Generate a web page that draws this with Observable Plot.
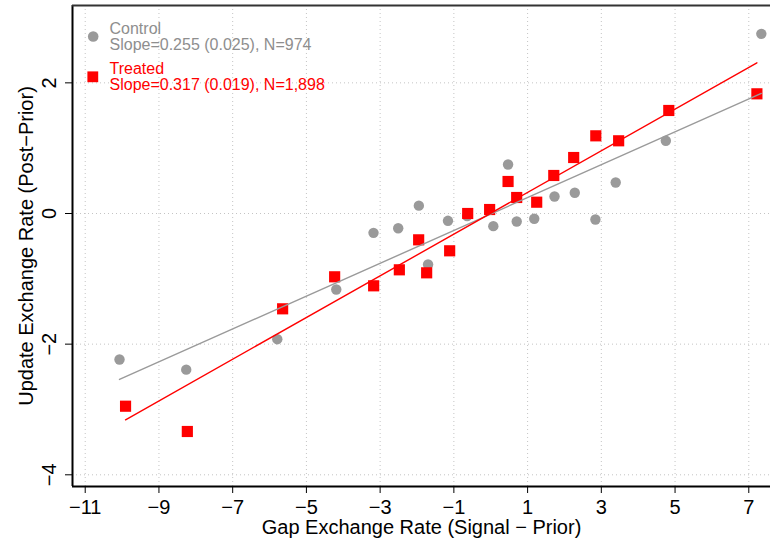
<!DOCTYPE html>
<html>
<head>
<meta charset="utf-8">
<script src="https://cdn.jsdelivr.net/npm/d3@7"></script>
<script src="https://cdn.jsdelivr.net/npm/@observablehq/plot@0.6"></script>
<style>
  html, body { margin: 0; padding: 0; background: white; }
</style>
</head>
<body>
<div id="chart"></div>
<script>
// ---- data ----
const xTicks = [-11, -9, -7, -5, -3, -1, 1, 3, 5, 7];
const yTicks = [-4, -2, 0, 2];

const controlX = [-10.07, -8.26, -5.79, -4.19, -3.18, -2.51, -1.95, -1.70, -1.16, -0.64, 0.07, 0.47, 0.705, 1.18, 1.73, 2.28, 2.84, 3.39, 4.75, 7.34];
const controlY = [-2.235, -2.39, -1.924, -1.163, -0.296, -0.225, 0.12, -0.78, -0.112, -0.04, -0.194, 0.75, -0.122, -0.081, 0.26, 0.317, -0.092, 0.475, 1.113, 2.75];

const treatedX = [-9.906, -8.23, -5.645, -4.234, -3.176, -2.479, -1.955, -1.738, -1.114, -0.625, -0.03, 0.47, 0.704, 1.247, 1.71, 2.25, 2.85, 3.47, 4.83, 7.22];
const treatedY = [-2.95, -3.337, -1.459, -0.969, -1.107, -0.862, -0.403, -0.908, -0.571, 0.0, 0.061, 0.49, 0.245, 0.173, 0.582, 0.857, 1.189, 1.113, 1.577, 1.832];

const groups = ["Control", "Treated"];
const slopeLabels = ["0.255", "0.317"];
const seLabels = ["0.025", "0.019"];
const nLabels = ["974", "1,898"];
const fitIntercept = [-0.008, 0.003];
const fitSlope = [0.2514, 0.3191];

const xTitle = "Gap Exchange Rate (Signal \u2212 Prior)";
const yTitle = "Update Exchange Rate (Post\u2212Prior)";

const xDomain = [-11.345, 7.589];
const yDomain = [-4.179, 3.184];

// ---- derived tables ----
const control = controlX.map((x, i) => ({x, y: controlY[i]}));
const treated = treatedX.map((x, i) => ({x, y: treatedY[i]}));
function fitLine(xs, k) {
  const lo = d3.min(xs), hi = d3.max(xs);
  return [lo, hi].map(x => ({x, y: fitIntercept[k] + fitSlope[k] * x}));
}
const controlFit = fitLine(controlX, 0);
const treatedFit = fitLine(treatedX, 1);
const legendText = groups.map((g, i) => `${g}\nSlope=${slopeLabels[i]} (${seLabels[i]}), N=${nLabels[i]}`);

const gray = "#9a9a9a";
const red = "#ff0000";
const fmt = d3.format("d");

const chart = Plot.plot({
  width: 770,
  height: 545,
  marginLeft: 72,
  marginRight: 0,
  marginTop: 5,
  marginBottom: 59,
  style: {fontFamily: "'Liberation Sans', Arial, Helvetica, sans-serif", fontSize: "20px", background: "white", color: "black"},
  x: {domain: xDomain, axis: null},
  y: {domain: yDomain, axis: null},
  marks: [
    Plot.gridX(xTicks, {stroke: "#c4c4c4", strokeOpacity: 1, strokeDasharray: "1,3", strokeWidth: 1}),
    Plot.gridY(yTicks, {stroke: "#c4c4c4", strokeOpacity: 1, strokeDasharray: "1,3", strokeWidth: 1}),
    // frame
    Plot.ruleX([xDomain[0]], {stroke: "black", strokeWidth: 2}),
    Plot.ruleY([yDomain[0]], {stroke: "black", strokeWidth: 2}),
    Plot.ruleY([yDomain[1]], {stroke: "#333", strokeWidth: 2}),
    // axes
    Plot.axisX(xTicks, {tickSize: 7, tickPadding: 6, tickFormat: fmt, label: null, fontSize: 20}),
    Plot.axisY(yTicks, {tickSize: 7, tickFormat: () => "", label: null}),
    Plot.text(yTicks, {x: xDomain[0], y: d => d, text: d => fmt(d), rotate: -90, dx: -23, fontSize: 20, textAnchor: "middle", lineAnchor: "middle"}),
    Plot.text([xTitle], {frameAnchor: "bottom", dy: 41, text: d => d, fontSize: 20, textAnchor: "middle", lineAnchor: "middle"}),
    Plot.text([yTitle], {frameAnchor: "left", dx: -46, rotate: -90, text: d => d, fontSize: 20, textAnchor: "middle", lineAnchor: "middle"}),
    // points
    Plot.dot(control, {x: "x", y: "y", r: 5.2, fill: gray, stroke: "none"}),
    Plot.dot(treated, {x: "x", y: "y", r: 6.3, symbol: "square", fill: red, stroke: "none"}),
    // fits
    Plot.line(controlFit, {x: "x", y: "y", stroke: gray, strokeWidth: 1.4}),
    Plot.line(treatedFit, {x: "x", y: "y", stroke: red, strokeWidth: 1.4}),
    // legend
    Plot.dot([0], {frameAnchor: "top-left", dx: 20.7, dy: 31, r: 5.3, fill: gray, stroke: "none"}),
    Plot.dot([0], {frameAnchor: "top-left", dx: 20.3, dy: 71.3, r: 6.1, symbol: "square", fill: red, stroke: "none"}),
    Plot.text([legendText[0]], {frameAnchor: "top-left", dx: 37, dy: 17.2, text: d => d, textAnchor: "start", lineAnchor: "top", lineHeight: 1.0, fontSize: 16, fill: "#8e8e8e"}),
    Plot.text([legendText[1]], {frameAnchor: "top-left", dx: 37, dy: 57, text: d => d, textAnchor: "start", lineAnchor: "top", lineHeight: 1.0, fontSize: 16, fill: red})
  ]
});
document.getElementById("chart").appendChild(chart);
</script>
</body>
</html>
